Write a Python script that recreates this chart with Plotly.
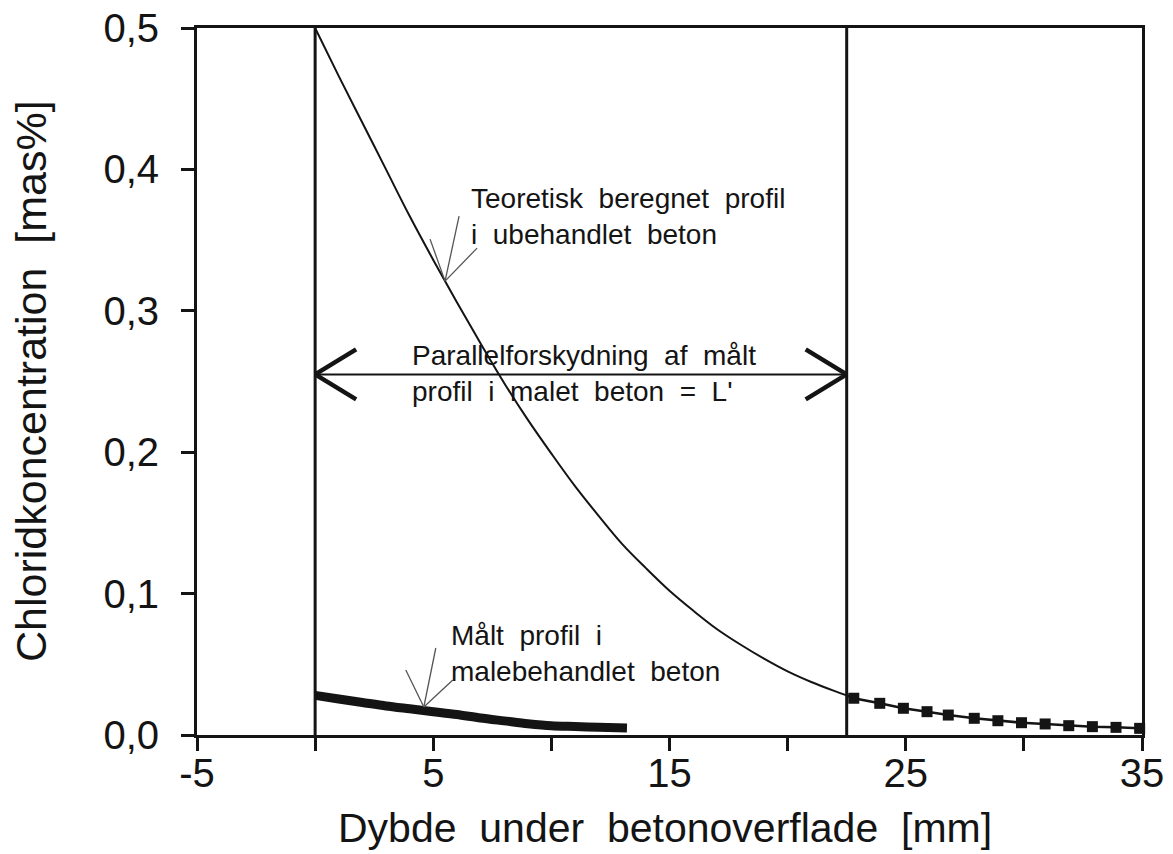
import numpy as np
import plotly.graph_objects as go

# ---- data ----
theory_x = [0, 1, 2, 3, 4, 5, 6, 7, 8, 9, 10, 11, 12, 13, 14, 15, 16, 17, 18, 19, 20, 21, 22, 22.5]
theory_y = [0.500, 0.466, 0.433, 0.400, 0.367, 0.336, 0.306, 0.277, 0.249, 0.223, 0.199, 0.176,
            0.155, 0.135, 0.118, 0.102, 0.088, 0.075, 0.064, 0.054, 0.045, 0.0375, 0.031, 0.028]

measured_x = [0, 1, 2, 3, 4, 5, 6, 7, 8, 9, 10, 11, 12, 13.2]
measured_y = [0.028, 0.0255, 0.023, 0.0205, 0.0185, 0.0165, 0.0145, 0.012, 0.010, 0.008,
              0.0065, 0.006, 0.0055, 0.005]

shifted_x = [22.5, 22.8, 23.9, 24.9, 25.9, 26.8, 27.9, 28.9, 29.9, 30.9, 31.9, 32.9, 33.9, 34.9]
shifted_y = [0.028, 0.026, 0.0224, 0.0189, 0.0165, 0.0141, 0.0118, 0.0101, 0.0087, 0.0078,
             0.0066, 0.0059, 0.0054, 0.0047]

surface_x = 0        # concrete surface
shift_L = 22.5       # parallel shift L'
arrow_y = 0.255      # height of the double arrow

x_tickvals = [-5, 0, 5, 10, 15, 20, 25, 30, 35]
x_ticktext = ["-5", "", "5", "", "15", "", "25", "", "35"]
y_tickvals = [0.0, 0.1, 0.2, 0.3, 0.4, 0.5]
y_ticktext = ["0,0", "0,1", "0,2", "0,3", "0,4", "0,5"]

FONT = "Liberation Sans, Arial, Helvetica, sans-serif"
INK = "#141414"
SP = "\u00a0\u00a0"

def wide(s):
    return s.replace(" ", SP)

fig = go.Figure()

fig.add_trace(go.Scatter(x=theory_x, y=theory_y, mode="lines",
                         line=dict(color=INK, width=2, shape="spline", smoothing=1.0),
                         hoverinfo="skip", showlegend=False))
fig.add_trace(go.Scatter(x=measured_x, y=measured_y, mode="lines",
                         line=dict(color=INK, width=9, shape="spline", smoothing=0.8),
                         hoverinfo="skip", showlegend=False))
fig.add_trace(go.Scatter(x=shifted_x, y=shifted_y, mode="lines",
                         line=dict(color=INK, width=2.5), hoverinfo="skip", showlegend=False))
fig.add_trace(go.Scatter(x=shifted_x[1:], y=shifted_y[1:], mode="markers",
                         marker=dict(symbol="square", size=11, color=INK),
                         hoverinfo="skip", showlegend=False, cliponaxis=False))

shapes = []
# vertical reference lines
for xv in (surface_x, shift_L):
    shapes.append(dict(type="line", xref="x", yref="y", x0=xv, x1=xv, y0=0, y1=0.5,
                       line=dict(color=INK, width=3)))
# double arrow
shapes.append(dict(type="line", xref="x", yref="y", x0=surface_x, x1=shift_L,
                   y0=arrow_y, y1=arrow_y, line=dict(color=INK, width=2)))
for xa, sgn in ((surface_x, 1), (shift_L, -1)):
    for dy in (25, -25):
        shapes.append(dict(type="line", xref="x", yref="y", xsizemode="pixel", ysizemode="pixel",
                           xanchor=xa, yanchor=arrow_y, x0=0, y0=0, x1=sgn * 41, y1=dy,
                           line=dict(color=INK, width=4.5)))

# callout arrows (open V heads)
def callout(xt, yt, arms):
    for (dx, dy) in arms:
        shapes.append(dict(type="line", xref="x", yref="y", xsizemode="pixel", ysizemode="pixel",
                           xanchor=xt, yanchor=yt, x0=0, y0=0, x1=dx, y1=dy,
                           line=dict(color="#555555", width=1.3)))

tx = 5.5
callout(tx, float(np.interp(tx, theory_x, theory_y)), [(14, 65), (-15, 42), (32, 33)])
mx = 4.6
callout(mx, float(np.interp(mx, measured_x, measured_y)) + 0.0025, [(12, 59), (-18, 37), (29, 27)])

ann_font = dict(family=FONT, size=28, color=INK)
annotations = [
    dict(x=6.5, y=0.392, xref="x", yref="y", xanchor="left", yanchor="top", align="left",
         showarrow=False, font=ann_font,
         text=wide("Teoretisk beregnet profil") + "<br>" + wide("i ubehandlet beton")),
    dict(x=4.0, y=0.281, xref="x", yref="y", xanchor="left", yanchor="top", align="left",
         showarrow=False, font=ann_font,
         text=wide("Parallelforskydning af målt") + "<br>" + wide("profil i malet beton = L'")),
    dict(x=5.65, y=0.083, xref="x", yref="y", xanchor="left", yanchor="top", align="left",
         showarrow=False, font=ann_font,
         text=wide("Målt profil i") + "<br>" + wide("malebehandlet beton")),
]

# page body margin is removed below, so the figure starts at the page corner
W, H = 1173, 854
# plot area in page pixels: x 197..1142, y 28..735
L, T = 197, 28
PW, PH = 1142 - 197, 735 - 28
R, B = W - L - PW, H - T - PH

def page_to_paper(px, py):
    return (px - L) / PW, (H - py - B) / PH

xt_x, xt_y = page_to_paper(665, 828)
yt_x, yt_y = page_to_paper(31, 381)
annotations += [
    dict(x=xt_x, y=xt_y, xref="paper", yref="paper", xanchor="center", yanchor="middle",
         showarrow=False, font=dict(family=FONT, size=41, color=INK),
         text=wide("Dybde under betonoverflade [mm]")),
    dict(x=yt_x, y=yt_y, xref="paper", yref="paper", xanchor="center", yanchor="middle",
         showarrow=False, textangle=-90, font=dict(family=FONT, size=43, color=INK),
         text=wide("Chloridkoncentration [mas%]")),
]

fig.update_layout(
    width=W, height=H,
    margin=dict(l=L, r=R, t=T, b=B, autoexpand=False),
    paper_bgcolor="white", plot_bgcolor="white",
    font=dict(family=FONT, color=INK),
    shapes=shapes, annotations=annotations,
    showlegend=False,
)
fig.update_xaxes(range=[-5, 35], tickmode="array", tickvals=x_tickvals, ticktext=x_ticktext,
                 ticks="outside", ticklen=13, tickwidth=3, tickcolor=INK,
                 showline=True, linewidth=3, linecolor=INK, mirror=True,
                 showgrid=False, zeroline=False, automargin=False,
                 ticklabelstandoff=-12, ticklabeloverflow="allow",
                 tickfont=dict(family=FONT, size=40, color=INK))
fig.update_yaxes(range=[0, 0.5], tickmode="array", tickvals=y_tickvals, ticktext=y_ticktext,
                 ticks="outside", ticklen=13, tickwidth=3, tickcolor=INK,
                 showline=True, linewidth=3, linecolor=INK, mirror=True,
                 showgrid=False, zeroline=False, automargin=False,
                 ticklabelstandoff=14, ticklabeloverflow="allow",
                 tickfont=dict(family=FONT, size=40, color=INK))

fig.write_html("out.html", config={"displayModeBar": False, "staticPlot": True},
               post_script="document.body.style.margin='0px';document.body.style.overflow='hidden';")
